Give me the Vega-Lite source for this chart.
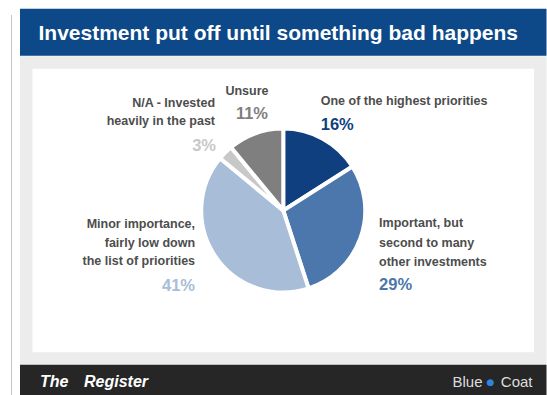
{
  "$schema": "https://vega.github.io/schema/vega-lite/v6.json",
  "background": "white",
  "padding": {"left": 11, "top": 8, "right": 0, "bottom": 0},
  "bounds": "flush",
  "spacing": 14.25,
  "config": {"font": "Liberation Sans", "view": {"stroke": null}},
  "datasets": {
    "slices": [
      {"rank": 1, "label": "One of the highest priorities", "pct": 16, "pctLabel": "16%"},
      {"rank": 2, "label": "Important, but\nsecond to many\nother investments", "pct": 29, "pctLabel": "29%"},
      {"rank": 3, "label": "Minor importance,\nfairly low down\nthe list of priorities", "pct": 41, "pctLabel": "41%"},
      {"rank": 4, "label": "N/A - Invested\nheavily in the past", "pct": 3, "pctLabel": "3%"},
      {"rank": 5, "label": "Unsure", "pct": 11, "pctLabel": "11%"}
    ]
  },
  "hconcat": [
    {
      "width": 1,
      "height": 381,
      "view": {"fill": "#C4C4C4"},
      "data": {"values": [{"edge": "frame"}]},
      "mark": {"type": "text", "text": ""}
    },
    {
      "bounds": "flush",
      "spacing": 12.5,
      "vconcat": [
        {
          "width": 514,
          "height": 34.5,
          "view": {"fill": "#0D4888", "stroke": "#0D4888", "strokeWidth": 12.5},
          "data": {"values": [{"title": "Investment put off until something bad happens"}]},
          "mark": {"type": "text", "font": "Liberation Sans", "fontSize": 21, "fontWeight": "bold", "color": "white", "align": "center", "baseline": "middle", "dx": -5, "dy": 1.5},
          "encoding": {"text": {"field": "title", "type": "nominal"}}
        },
        {
          "width": 514,
          "height": 296,
          "view": {"fill": "white", "stroke": "#ECECEC", "strokeWidth": 12.5},
          "data": {"name": "slices"},
          "encoding": {
            "theta": {"field": "pct", "type": "quantitative", "stack": true},
            "order": {"field": "rank", "type": "quantitative"}
          },
          "layer": [
            {
              "mark": {"type": "arc", "radius": 82, "stroke": "white", "strokeWidth": 4},
              "encoding": {
                "color": {"field": "label", "type": "nominal", "legend": null,
                  "scale": {
                    "domain": ["One of the highest priorities", "Important, but\nsecond to many\nother investments", "Minor importance,\nfairly low down\nthe list of priorities", "N/A - Invested\nheavily in the past", "Unsure"],
                    "range": ["#0F3F7F", "#4B77AC", "#A8BDD7", "#C8C8C8", "#7F7F7F"]
                  }
                }
              }
            },
            {
              "mark": {"type": "text", "radius": 100, "align": "left", "baseline": "middle", "fontSize": 12.5, "fontWeight": "bold", "color": "#4D4D4D", "lineBreak": "\n", "lineHeight": 19, "dx": -10.7, "dy": -22.3},
              "encoding": {"text": {"condition": {"test": "datum.rank === 1", "field": "label"}, "value": ""}}
            },
            {
              "mark": {"type": "text", "radius": 100, "align": "left", "baseline": "middle", "fontSize": 16.5, "fontWeight": "bold", "dx": -10.7, "dy": 1.7},
              "encoding": {"text": {"condition": {"test": "datum.rank === 1", "field": "pctLabel"}, "value": ""}, "color": {"field": "label", "type": "nominal", "legend": null}}
            },
            {
              "mark": {"type": "text", "radius": 100, "align": "left", "baseline": "middle", "fontSize": 12.5, "fontWeight": "bold", "color": "#4D4D4D", "lineBreak": "\n", "lineHeight": 19.3, "dx": 1.7, "dy": -21.1},
              "encoding": {"text": {"condition": {"test": "datum.rank === 2", "field": "label"}, "value": ""}}
            },
            {
              "mark": {"type": "text", "radius": 100, "align": "left", "baseline": "middle", "fontSize": 16.5, "fontWeight": "bold", "dx": 1.7, "dy": 40.9},
              "encoding": {"text": {"condition": {"test": "datum.rank === 2", "field": "pctLabel"}, "value": ""}, "color": {"field": "label", "type": "nominal", "legend": null}}
            },
            {
              "mark": {"type": "text", "radius": 100, "align": "right", "baseline": "middle", "fontSize": 12.5, "fontWeight": "bold", "color": "#4D4D4D", "lineBreak": "\n", "lineHeight": 18.5, "dx": -5.5, "dy": -42.5},
              "encoding": {"text": {"condition": {"test": "datum.rank === 3", "field": "label"}, "value": ""}}
            },
            {
              "mark": {"type": "text", "radius": 100, "align": "right", "baseline": "middle", "fontSize": 16.5, "fontWeight": "bold", "dx": -5.5, "dy": 19.5},
              "encoding": {"text": {"condition": {"test": "datum.rank === 3", "field": "pctLabel"}, "value": ""}, "color": {"field": "label", "type": "nominal", "legend": null}}
            },
            {
              "mark": {"type": "text", "radius": 100, "align": "right", "baseline": "middle", "fontSize": 12.5, "fontWeight": "bold", "color": "#4D4D4D", "lineBreak": "\n", "lineHeight": 18.3, "dx": 2.5, "dy": -36.8},
              "encoding": {"text": {"condition": {"test": "datum.rank === 4", "field": "label"}, "value": ""}}
            },
            {
              "mark": {"type": "text", "radius": 100, "align": "right", "baseline": "middle", "fontSize": 16.5, "fontWeight": "bold", "dx": 3.5, "dy": 6.5},
              "encoding": {"text": {"condition": {"test": "datum.rank === 4", "field": "pctLabel"}, "value": ""}, "color": {"field": "label", "type": "nominal", "legend": null}}
            },
            {
              "mark": {"type": "text", "radius": 100, "align": "center", "baseline": "middle", "fontSize": 12.5, "fontWeight": "bold", "color": "#4D4D4D", "dx": -2.4, "dy": -25.2},
              "encoding": {"text": {"condition": {"test": "datum.rank === 5", "field": "label"}, "value": ""}}
            },
            {
              "mark": {"type": "text", "radius": 100, "align": "center", "baseline": "middle", "fontSize": 16.5, "fontWeight": "bold", "dx": 2.6, "dy": -2.5},
              "encoding": {"text": {"condition": {"test": "datum.rank === 5", "field": "pctLabel"}, "value": ""}, "color": {"field": "label", "type": "nominal", "legend": null}}
            }
          ]
        },
        {
          "width": 514,
          "height": 19.5,
          "view": {"fill": "#262626", "stroke": "#262626", "strokeWidth": 12.5},
          "data": {"values": [{"brand": "The Register", "sponsor": "Blue Coat"}]},
          "layer": [
            {
              "mark": {"type": "text", "text": "The", "font": "Liberation Sans", "fontSize": 16, "fontWeight": "bold", "fontStyle": "italic", "color": "white", "align": "left", "baseline": "middle", "dx": 13.75, "dy": 1},
              "encoding": {"x": {"datum": 0, "type": "quantitative", "scale": {"domain": [0, 1]}, "axis": null}}
            },
            {
              "mark": {"type": "text", "text": "Register", "font": "Liberation Sans", "fontSize": 16, "fontWeight": "bold", "fontStyle": "italic", "color": "white", "align": "left", "baseline": "middle", "dx": 57.75, "dy": 1},
              "encoding": {"x": {"datum": 0, "type": "quantitative", "scale": {"domain": [0, 1]}, "axis": null}}
            },
            {
              "mark": {"type": "text", "text": "Blue", "font": "Liberation Sans", "fontSize": 15, "color": "#DDDDDD", "align": "right", "baseline": "middle", "dx": -57.75, "dy": 1},
              "encoding": {"x": {"datum": 1, "type": "quantitative", "scale": {"domain": [0, 1]}, "axis": null}}
            },
            {
              "mark": {"type": "text", "text": "●", "font": "DejaVu Sans", "fontSize": 9, "color": "#2F86E0", "align": "center", "baseline": "middle", "dx": -49.75, "dy": 1},
              "encoding": {"x": {"datum": 1, "type": "quantitative", "scale": {"domain": [0, 1]}, "axis": null}}
            },
            {
              "mark": {"type": "text", "text": "Coat", "font": "Liberation Sans", "fontSize": 15, "color": "#DDDDDD", "align": "right", "baseline": "middle", "dx": -7.75, "dy": 1},
              "encoding": {"x": {"datum": 1, "type": "quantitative", "scale": {"domain": [0, 1]}, "axis": null}}
            }
          ]
        }
      ]
    }
  ]
}
